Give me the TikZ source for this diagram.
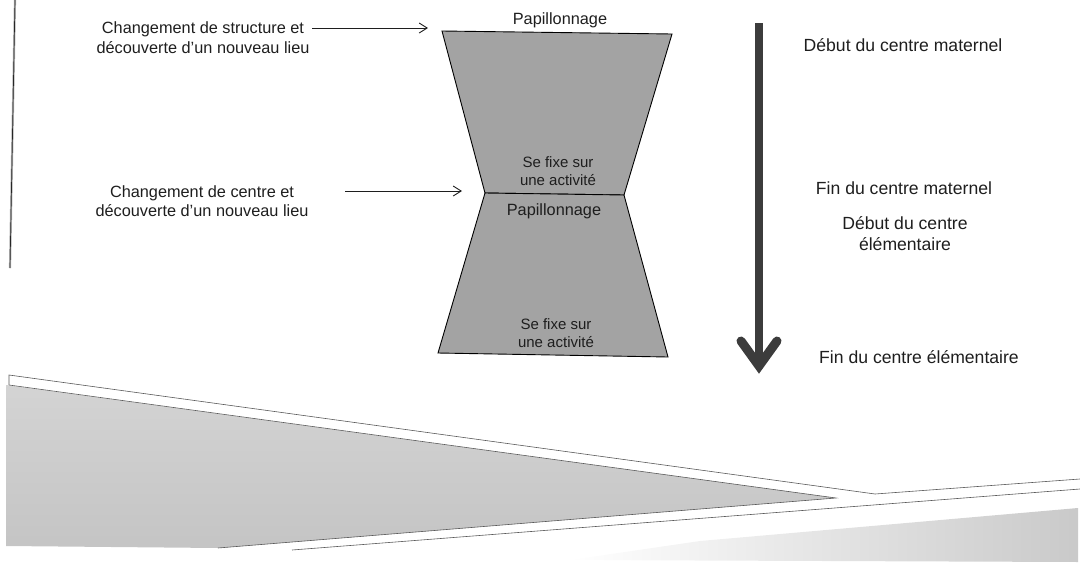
\documentclass[tikz,border=0pt]{standalone}
\usepackage{fontspec}
\setmainfont{Liberation Sans}
\usetikzlibrary{arrows.meta}
\usetikzlibrary{calc}
\tikzset{>={Straight Barb[length=8pt,width=10pt]}}
\definecolor{ink}{HTML}{1E1E1E}
\definecolor{sandglass}{HTML}{A3A3A3}
\definecolor{timeline}{HTML}{3C3C3C}
\tikzset{
  side/.style={text=ink, align=center, inner sep=0pt, font=\fontsize{16.3}{19.5}\selectfont},
  inner/.style={text=ink, align=center, inner sep=0pt, font=\fontsize{15}{18}\selectfont},
  stage/.style={text=ink, align=center, inner sep=0pt, font=\fontsize{17.6}{21}\selectfont},
  pointer/.style={->, ink, line width=0.9pt},
  scanline/.style={black!65, line width=0.6pt}
}

\begin{document}
\begin{tikzpicture}[x=1pt, y=-1pt]
    \useasboundingbox (0,0) rectangle (1080,574);

    % margin rule of the scanned page
    \draw[gray!60, line width=2.2pt] (15,0) -- (10,268);
    \draw[black!85, line width=0.7pt] (15,0) -- (10,268);

    % hourglass
    \coordinate (tl) at (442,31);
    \coordinate (tr) at (672,34);
    \coordinate (ml) at (485,193);
    \coordinate (mr) at (624,195);
    \coordinate (bl) at (438,353);
    \coordinate (br) at (668,357);
    \draw[fill=sandglass, line width=0.9pt] (tl) -- (tr) -- (mr) -- (ml) -- cycle;
    \draw[fill=sandglass, line width=0.9pt] (ml) -- (mr) -- (br) -- (bl) -- cycle;
    \node[side] (pap1) at (560,20) {Papillonnage};
    \node[inner] (fix1) at (558,171) {Se fixe sur\\une activité};
    \node[side] (pap2) at (554,211) {Papillonnage};
    \node[inner] (fix2) at (556,333) {Se fixe sur\\une activité};

    % changes on the left
    \node[side] (chg1) at (203,37.5) {Changement de structure et\\découverte d'un nouveau lieu};
    \node[side] (chg2) at (202,201) {Changement de centre et\\découverte d'un nouveau lieu};
    \coordinate (go1) at (312,28);
    \coordinate (in1) at (428,28);
    \coordinate (go2) at (345,191);
    \coordinate (in2) at (462,191);
    \draw[pointer] (go1) -- (in1);
    \draw[pointer] (go2) -- (in2);

    % time arrow
    \coordinate (tstart) at (759,23);
    \coordinate (tend) at (759,366);
    \draw[timeline, line width=8pt] (tstart) -- (tend);
    \draw[timeline, line width=9pt, line cap=round, miter limit=10]
      ($(tend)+(-18,-25)$) -- (tend) -- ($(tend)+(18,-25)$);

    % stages on the right
    \node[stage] (deb1) at (903,45) {Début du centre maternel};
    \node[stage] (fin1) at (904,188) {Fin du centre maternel};
    \node[stage] (deb2) at (905,233.5) {Début du centre\\élémentaire};
    \node[stage] (fin2) at (919,357) {Fin du centre élémentaire};

    % curled page at the bottom of the scan
    \shade[top color=gray!34, bottom color=gray!46] (6,385) -- (836,498) -- (218,548) -- (6,546) -- cycle;
    \shade[left color=white, right color=gray!42] (570,560) -- (700,541) -- (1078,508) -- (1078,562) -- cycle;
    \draw[scanline] (9,385) -- (9,375) -- (875,494) -- (1080,479);
    \draw[scanline] (9,385) -- (836,498) -- (218,548);
    \draw[scanline] (292,550) -- (1080,489);
\end{tikzpicture}
\end{document}
